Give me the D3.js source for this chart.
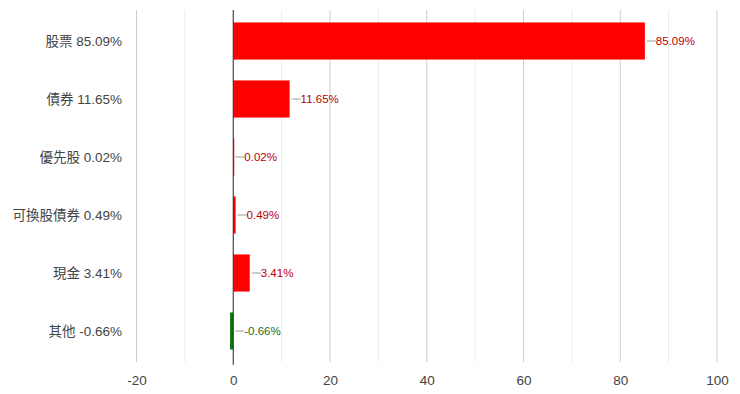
<!DOCTYPE html>
<html lang="zh-Hant">
<head>
  <meta charset="UTF-8">
  <title>asset allocation</title>
  <script src="https://cdn.jsdelivr.net/npm/d3@7"></script>
  <style>
    body { margin: 0; background: #fff; }
    text { font-family: "Liberation Sans", Arial, "Noto Sans CJK TC", sans-serif; }
  </style>
</head>
<body>
<script>
let categories = ['股票', '債券', '優先股', '可換股債券', '現金', '其他'];
let values = [85.09, 11.65, 0.02, 0.49, 3.41, -0.66];
let tickValues = [-20, 0, 20, 40, 60, 80, 100];
let gridValues = [-20, -10, 0, 10, 20, 30, 40, 50, 60, 70, 80, 90, 100];

let width = 740;
let height = 394;
let margin = {top: 12, right: 23, bottom: 34, left: 136.5};
let plotBottom = 360;

let svg = d3.select('body')
  .append('svg')
  .attr('width', width)
  .attr('height', height);

let x = d3.scaleLinear()
  .domain([-20, 100])
  .range([margin.left, width - margin.right]);

let y = d3.scaleBand()
  .domain(categories)
  .range([margin.top, plotBottom])
  .paddingInner(0.36)
  .paddingOuter(0.18);

// gridlines
svg.append('g')
  .selectAll('line')
  .data(gridValues)
  .enter()
  .append('line')
  .attr('x1', d => x(d))
  .attr('x2', d => x(d))
  .attr('y1', margin.top - 2)
  .attr('y2', plotBottom + 2)
  .attr('stroke', d => d % 20 === 0 ? '#cccccc' : '#ebebeb')
  .attr('stroke-width', 1);

// bars
svg.append('g')
  .selectAll('rect')
  .data(values)
  .enter()
  .append('rect')
  .attr('x', d => x(Math.min(0, d)))
  .attr('y', (d, i) => y(categories[i]))
  .attr('width', d => Math.max(1, Math.abs(x(d) - x(0))))
  .attr('height', y.bandwidth())
  .attr('fill', d => d < 0 ? '#0a7a0a' : '#ff0000');

// zero line
svg.append('line')
  .attr('x1', x(0))
  .attr('x2', x(0))
  .attr('y1', margin.top - 2)
  .attr('y2', plotBottom + 5)
  .attr('stroke', '#333')
  .attr('stroke-width', 1);

// value labels with leader lines
let labels = svg.append('g')
  .selectAll('g')
  .data(values)
  .enter()
  .append('g')
  .attr('transform', (d, i) => 'translate(' + (x(Math.max(0, d)) + 2) + ',' + (y(categories[i]) + y.bandwidth() / 2) + ')');

labels.append('line')
  .attr('x1', 0)
  .attr('x2', 9)
  .attr('y1', 0)
  .attr('y2', 0)
  .attr('stroke', '#999')
  .attr('stroke-width', 1);

labels.append('text')
  .attr('x', 9)
  .attr('dy', '0.35em')
  .attr('font-size', 11.5)
  .attr('fill', d => d < 0 ? '#1b6e1b' : '#b80000')
  .text(d => d.toFixed(2) + '%');

// category labels
svg.append('g')
  .selectAll('text')
  .data(categories)
  .enter()
  .append('text')
  .attr('x', 122)
  .attr('y', (d, i) => y(d) + y.bandwidth() / 2)
  .attr('dy', '0.35em')
  .attr('text-anchor', 'end')
  .attr('font-size', 13.5)
  .attr('fill', '#444')
  .text((d, i) => d + ' ' + values[i].toFixed(2) + '%');

// x axis
let xAxis = d3.axisBottom(x)
  .tickValues(tickValues)
  .tickFormat(d => String(d))
  .tickSize(0)
  .tickPadding(0);

let axisG = svg.append('g')
  .attr('transform', 'translate(0,' + plotBottom + ')')
  .call(xAxis);
axisG.select('.domain').remove();
axisG.selectAll('text')
  .attr('y', 25)
  .attr('dy', 0)
  .attr('font-size', 13.5)
  .attr('fill', '#444')
  .style('font-family', '"Liberation Sans", Arial, sans-serif');
</script>
</body>
</html>
